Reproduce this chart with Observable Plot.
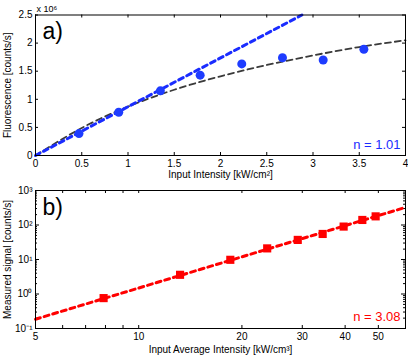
<!DOCTYPE html>
<html>
<head>
<meta charset="utf-8">
<script src="https://cdn.jsdelivr.net/npm/d3@7"></script>
<script src="https://cdn.jsdelivr.net/npm/@observablehq/plot@0.6"></script>
<style>
  html, body { margin: 0; padding: 0; background: #fff; }
  #chart { width: 408px; font-family: "Liberation Sans", Arial, sans-serif; }
  #chart svg { display: block; }
</style>
</head>
<body>
<div id="chart"></div>
<script>
// ---- Panel a) data ----
const intensityA = [0.47, 0.90, 1.35, 1.78, 2.23, 2.67, 3.11, 3.55];      // kW/cm^2
const fluorA     = [0.39, 0.77, 1.15, 1.43, 1.63, 1.74, 1.70, 1.89];      // x10^6 counts/s
const linFitX    = [0, 2.88];
const linFitY    = [0, 2.50];
const satFitX    = [0, 0.5, 1, 1.5, 2, 2.5, 3, 3.5, 4];
const satFitY    = [0, 0.49, 0.87, 1.17, 1.41, 1.61, 1.78, 1.93, 2.05];
const xTicksA    = [0, 0.5, 1, 1.5, 2, 2.5, 3, 3.5, 4];
const yTicksA    = [0, 0.5, 1, 1.5, 2, 2.5];
const labelA     = "a)";
const scaleNoteA = "x 10⁶";
const fitLabelA  = "n = 1.01";

// ---- Panel b) data ----
const intensityB = [7.9, 13.2, 18.5, 23.7, 29.1, 34.4, 39.6, 44.9, 49.1]; // kW/cm^3
const signalB    = [0.76, 3.6, 9.8, 21, 37, 55, 90, 140, 178];            // counts/s
const powFitX    = [5, 60];
const powFitY    = [0.186, 324];
const xLabelTicksB = [5, 10, 20, 30, 40, 50];
const xTickMarksB  = [6, 7, 8, 9, 10, 20, 30, 40, 50];
const yMajorB    = [0.1, 1, 10, 100, 1000];
const yMajorTextB = ["10⁻¹", "10⁰", "10¹", "10²", "10³"];
const yMinorB    = [0.2,0.3,0.4,0.5,0.6,0.7,0.8,0.9, 2,3,4,5,6,7,8,9, 20,30,40,50,60,70,80,90, 200,300,400,500,600,700,800,900];
const labelB     = "b)";
const fitLabelB  = "n = 3.08";

const W = 408;
const ML = 35, MR = 3;
const font = "Liberation Sans, Arial, sans-serif";

// ---- Panel a ----
const hA = 180, mtA = 14.5, mbA = 25;
const ihA = hA - mtA - mbA, iw = W - ML - MR;
const ptsA = intensityA.map((x, i) => ({x, y: fluorA[i]}));
const linA = linFitX.map((x, i) => ({x, y: linFitY[i]}));
const satA = satFitX.map((x, i) => ({x, y: satFitY[i]}));

const plotA = Plot.plot({
  width: W, height: hA,
  marginLeft: ML, marginRight: MR, marginTop: mtA, marginBottom: mbA,
  style: {fontFamily: font, fontSize: "10px", background: "#fff", overflow: "visible"},
  x: {domain: [0, 4]},
  y: {domain: [0, 2.5]},
  marks: [
    Plot.axisX({ticks: xTicksA, tickSize: 0, tickPadding: 4, tickFormat: d => String(d),
      label: "Input Intensity [kW/cm²]", labelAnchor: "center", labelArrow: "none", labelOffset: 22, fontSize: 10}),
    Plot.axisY({ticks: yTicksA, tickSize: 0, tickPadding: 3, tickFormat: d => String(d),
      label: "Fluorescence [counts/s]", labelAnchor: "center", labelArrow: "none", labelOffset: 32, fontSize: 10}),
    Plot.tickX(xTicksA, {x: d => d, insetTop: ihA - 3, stroke: "#000"}),
    Plot.tickX(xTicksA, {x: d => d, insetBottom: ihA - 3, stroke: "#000"}),
    Plot.tickY(yTicksA, {y: d => d, insetRight: iw - 3, stroke: "#000"}),
    Plot.tickY(yTicksA, {y: d => d, insetLeft: iw - 3, stroke: "#000"}),
    Plot.line(satA, {x: "x", y: "y", curve: "natural", stroke: "#3a3a3a", strokeWidth: 1.8, strokeDasharray: "6,4"}),
    Plot.line(linA, {x: "x", y: "y", stroke: "#1a2cff", strokeWidth: 3, strokeDasharray: "5,4"}),
    Plot.dot(ptsA, {x: "x", y: "y", r: 4.5, fill: "#1e3cff", stroke: "none"}),
    Plot.frame({stroke: "#000"}),
    Plot.text([labelA], {frameAnchor: "top-left", dx: 7, dy: 8, fontSize: 23, textAnchor: "start", lineAnchor: "top", fill: "#000"}),
    Plot.text([scaleNoteA], {frameAnchor: "top-left", dx: 1, dy: -3, fontSize: 9, textAnchor: "start", lineAnchor: "bottom", fill: "#000"}),
    Plot.text([fitLabelA], {frameAnchor: "bottom-right", dx: -5, dy: -7, fontSize: 13, textAnchor: "end", lineAnchor: "bottom", fill: "#1a2cff"})
  ]
});

// ---- Panel b ----
const hB = 177, mtB = 10, mbB = 29;
const ihB = hB - mtB - mbB;
const ptsB = intensityB.map((x, i) => ({x, y: signalB[i]}));
const powB = powFitX.map((x, i) => ({x, y: powFitY[i]}));
const allXTicksB = [5].concat(xTickMarksB);

const plotB = Plot.plot({
  width: W, height: hB,
  marginLeft: ML, marginRight: MR, marginTop: mtB, marginBottom: mbB,
  style: {fontFamily: font, fontSize: "10px", background: "#fff", overflow: "visible"},
  x: {type: "log", domain: [5, 60]},
  y: {type: "log", domain: [0.1, 1000]},
  marks: [
    Plot.axisX({ticks: xLabelTicksB, tickSize: 0, tickPadding: 4, tickFormat: d => String(d),
      label: "Input Average Intensity [kW/cm³]", labelAnchor: "center", labelArrow: "none", labelOffset: 24, fontSize: 10}),
    Plot.axisY({ticks: yMajorB, tickSize: 0, tickPadding: 3, tickFormat: d => yMajorTextB[yMajorB.indexOf(d)],
      label: "Measured signal [counts/s]", labelAnchor: "center", labelArrow: "none", labelOffset: 32, fontSize: 10}),
    Plot.tickX(allXTicksB, {x: d => d, insetTop: ihB - 3, stroke: "#000"}),
    Plot.tickX(allXTicksB, {x: d => d, insetBottom: ihB - 3, stroke: "#000"}),
    Plot.tickY(yMajorB, {y: d => d, insetRight: iw - 4, stroke: "#000"}),
    Plot.tickY(yMajorB, {y: d => d, insetLeft: iw - 4, stroke: "#000"}),
    Plot.tickY(yMinorB, {y: d => d, insetRight: iw - 2, stroke: "#000"}),
    Plot.tickY(yMinorB, {y: d => d, insetLeft: iw - 2, stroke: "#000"}),
    Plot.line(powB, {x: "x", y: "y", stroke: "#ff0000", strokeWidth: 3, strokeDasharray: "5,4"}),
    Plot.dot(ptsB, {x: "x", y: "y", symbol: "square", r: 4.6, fill: "#ff0000", stroke: "none"}),
    Plot.frame({stroke: "#000"}),
    Plot.text([labelB], {frameAnchor: "top-left", dx: 7, dy: 8, fontSize: 23, textAnchor: "start", lineAnchor: "top", fill: "#000"}),
    Plot.text([fitLabelB], {frameAnchor: "bottom-right", dx: -5, dy: -8, fontSize: 13, textAnchor: "end", lineAnchor: "bottom", fill: "#ff0000"})
  ]
});

const chart = document.getElementById("chart");
chart.appendChild(plotA);
chart.appendChild(plotB);
</script>
</body>
</html>
